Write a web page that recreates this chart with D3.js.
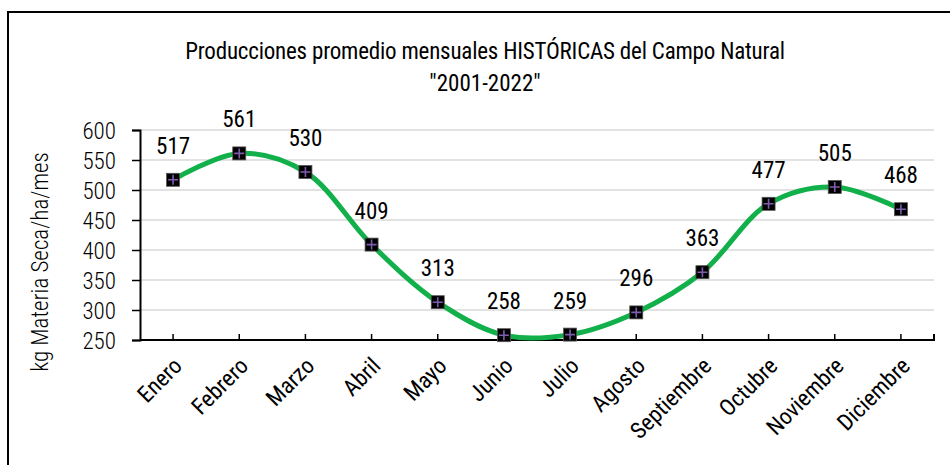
<!DOCTYPE html>
<html>
<head>
<meta charset="utf-8">
<script src="https://cdn.jsdelivr.net/npm/d3@7"></script>
<style>
	body { margin: 0; background: #fff; }
	text { font-family: "Roboto Condensed", "Liberation Sans Narrow", "Arial Narrow", sans-serif; fill: #000; }
</style>
</head>
<body>
<div id="chart"></div>
<script>
// data
var meses = ["Enero", "Febrero", "Marzo", "Abril", "Mayo", "Junio", "Julio",
	"Agosto", "Septiembre", "Octubre", "Noviembre", "Diciembre"];
var produccion = [517, 561, 530, 409, 313, 258, 259, 296, 363, 477, 505, 468];
var yTicks = [250, 300, 350, 400, 450, 500, 550, 600];

var width = 950, height = 465;

var svg = d3.select("#chart")
	.append("svg")
	.attr("width", width)
	.attr("height", height);

// frame (only left and top visible)
svg.append("rect")
	.attr("x", 8).attr("y", 12)
	.attr("width", 960).attr("height", 480)
	.attr("fill", "none")
	.attr("stroke", "#000")
	.attr("stroke-width", 2);

// scales
var x = d3.scaleBand()
	.domain(meses)
	.range([140, 934])
	.padding(0);

var y = d3.scaleLinear()
	.domain([250, 600])
	.range([340, 130]);

function cx(d, i) { return x(meses[i]) + x.bandwidth() / 2; }

// gridlines
svg.append("g")
	.selectAll("line")
	.data(yTicks.slice(1))
	.enter()
	.append("line")
	.attr("x1", 140).attr("x2", 934)
	.attr("y1", function(d) { return y(d); })
	.attr("y2", function(d) { return y(d); })
	.attr("stroke", "#d9d9d9")
	.attr("stroke-width", 1.5);

// y axis
var yAxis = d3.axisLeft(y)
	.tickValues(yTicks)
	.tickSize(8)
	.tickPadding(24);

var gy = svg.append("g")
	.attr("transform", "translate(140,0)")
	.call(yAxis);
gy.select(".domain").attr("stroke", "#000").attr("stroke-width", 2);
gy.selectAll(".tick line").attr("stroke", "#000").attr("stroke-width", 1.5);
gy.selectAll(".tick text")
	.style("font-size", "23px")
	.style("font-weight", 300)
	.attr("x", -24)
	.attr("dy", "0.35em");

// x axis
var xAxis = d3.axisBottom(x)
	.tickSize(-6)
	.tickFormat("");

var gx = svg.append("g")
	.attr("transform", "translate(0,340)")
	.call(xAxis);
gx.select(".domain").attr("stroke", "#000").attr("stroke-width", 2)
	.attr("d", "M140,0H934V-6");
gx.selectAll(".tick line").attr("stroke", "#000").attr("stroke-width", 1.5);

// x labels, rotated
svg.append("g")
	.selectAll("text")
	.data(meses)
	.enter()
	.append("text")
	.attr("transform", function(d, i) {
		return "translate(" + (cx(d, i) - 1) + ",356) rotate(-45)";
	})
	.attr("text-anchor", "end")
	.attr("dy", "0.7em")
	.style("font-size", "23px")
	.text(function(d) { return d; });

// smooth line
var line = d3.line()
	.x(cx)
	.y(function(d) { return y(d); })
	.curve(d3.curveCatmullRom.alpha(0.5));

svg.append("path")
	.datum(produccion)
	.attr("d", line)
	.attr("fill", "none")
	.attr("stroke", "#12b04a")
	.attr("stroke-width", 5);

// markers
var markers = svg.append("g")
	.selectAll("g")
	.data(produccion)
	.enter()
	.append("g")
	.attr("transform", function(d, i) {
		return "translate(" + cx(d, i) + "," + y(d) + ")";
	});

markers.append("rect")
	.attr("x", -6.5).attr("y", -6.5)
	.attr("width", 13).attr("height", 13)
	.attr("fill", "#000")
	.attr("stroke", "#555")
	.attr("stroke-width", 0.8);

markers.append("path")
	.attr("d", "M-5,0H5M0,-5V5")
	.attr("stroke", "#7d5cb0")
	.attr("stroke-width", 1.6);

// data labels
svg.append("g")
	.selectAll("text")
	.data(produccion)
	.enter()
	.append("text")
	.attr("x", cx)
	.attr("y", function(d) { return y(d) - 26; })
	.attr("text-anchor", "middle")
	.style("font-size", "23px")
	.text(function(d) { return d; });

// title
svg.append("text")
	.attr("x", 485).attr("y", 59)
	.attr("text-anchor", "middle")
	.style("font-size", "23px")
	.style("letter-spacing", "-0.2px")
	.text("Producciones promedio mensuales HISTÓRICAS del Campo Natural");

svg.append("text")
	.attr("x", 485).attr("y", 91)
	.attr("text-anchor", "middle")
	.style("font-size", "23px")
	.text("\"2001-2022\"");

// y axis title
svg.append("text")
	.attr("transform", "translate(48,262) rotate(-90)")
	.attr("text-anchor", "middle")
	.style("font-size", "23px")
	.style("font-weight", 300)
	.text("kg Materia Seca/ha/mes");
</script>
</body>
</html>
